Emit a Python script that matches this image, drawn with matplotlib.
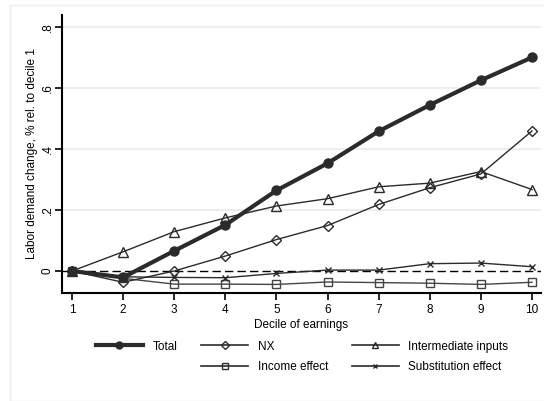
import matplotlib
matplotlib.use("Agg")
import matplotlib.pyplot as plt
from matplotlib.lines import Line2D
from matplotlib.patches import Rectangle

plt.rcParams['font.family'] = ['Liberation Sans', 'DejaVu Sans']

deciles = [1, 2, 3, 4, 5, 6, 7, 8, 9, 10]
total = [0.0, -0.021, 0.066, 0.151, 0.264, 0.353, 0.458, 0.544, 0.625, 0.700]
nx = [0.0, -0.037, 0.0, 0.049, 0.103, 0.149, 0.218, 0.273, 0.318, 0.459]
intermediate = [0.0, 0.063, 0.129, 0.174, 0.213, 0.237, 0.276, 0.288, 0.326, 0.267]
income = [0.0, -0.024, -0.043, -0.043, -0.044, -0.036, -0.038, -0.040, -0.044, -0.037]
substitution = [0.0, -0.019, -0.021, -0.022, -0.008, 0.003, 0.003, 0.024, 0.026, 0.014]

yticks = [0, 0.2, 0.4, 0.6, 0.8]
yticklabels = ["0", ".2", ".4", ".6", ".8"]

W, H = 544, 401
fig = plt.figure(figsize=(W / 100, H / 100), dpi=100)
fig.patch.set_facecolor("white")

# faint outer frame of the graph region
fig.patches.append(Rectangle((10 / W, 0), 1.0, 1 - 4.5 / H, transform=fig.transFigure,
                             fill=False, edgecolor="#ececec", linewidth=1.0))

ax = fig.add_axes([62 / W, 1 - 293 / H, (541 - 62) / W, (293 - 15) / H])
ax.set_xlim(0.804, 10.176)
ax.set_ylim(-0.0721, 0.839)

for y in yticks[1:]:
    ax.axhline(y, color="#ebebeb", linewidth=1.2, zorder=0)
ax.axhline(0, color="black", linewidth=1.0, linestyle=(0, (6, 3)), zorder=1)

dark = "#2b2b2b"
ax.plot(deciles, income, color="#444444", linewidth=1.0, marker="s", markersize=5.5,
        markerfacecolor="none", markeredgecolor="#444444", markeredgewidth=1.0, zorder=2)
ax.plot(deciles, substitution, color=dark, linewidth=1.0, marker="x", markersize=4,
        markeredgewidth=1.0, zorder=2)
ax.plot(deciles, intermediate, color=dark, linewidth=1.0, marker="^", markersize=6.5,
        markerfacecolor="none", markeredgecolor=dark, markeredgewidth=1.0, zorder=3)
ax.plot(deciles, nx, color=dark, linewidth=1.0, marker="D", markersize=5.5,
        markerfacecolor="none", markeredgecolor=dark, markeredgewidth=1.0, zorder=3)
ax.plot(deciles, total, color=dark, linewidth=3.0, marker="o", markersize=6.5,
        markerfacecolor=dark, markeredgecolor=dark, zorder=4)

for s in ["top", "right"]:
    ax.spines[s].set_visible(False)
for s in ["left", "bottom"]:
    ax.spines[s].set_linewidth(1.5)
    ax.spines[s].set_color("black")

ax.set_xticks(deciles)
ax.set_xticklabels([str(d) for d in deciles], fontsize=8.5)
ax.set_yticks(yticks)
ax.set_yticklabels(yticklabels, fontsize=8.5, rotation=90, va="center")
ax.tick_params(axis="both", direction="out", length=5, width=1.2, colors="black", pad=3)
ax.tick_params(axis="y", pad=1)
ax.set_xlabel("Decile of earnings", fontsize=8.5, labelpad=2)
ax.set_ylabel("Labor demand change, % rel. to decile 1", fontsize=8.5, labelpad=3)

h_total = Line2D([], [], color=dark, linewidth=3.0, marker="o", markersize=5, markerfacecolor=dark)
h_nx = Line2D([], [], color=dark, linewidth=1.2, marker="D", markersize=4.5, markerfacecolor="none")
h_int = Line2D([], [], color=dark, linewidth=1.2, marker="^", markersize=5, markerfacecolor="none")
h_inc = Line2D([], [], color=dark, linewidth=1.2, marker="s", markersize=4.5, markerfacecolor="none")
h_sub = Line2D([], [], color=dark, linewidth=1.2, marker="x", markersize=3.5)
h_blank = Line2D([], [], linestyle="none")

fig.legend([h_total, h_blank, h_nx, h_inc, h_int, h_sub],
           ["Total", "", "NX", "Income effect", "Intermediate inputs", "Substitution effect"],
           ncol=3, loc="center", bbox_to_anchor=(302 / W, 1 - 357 / H), frameon=False,
           fontsize=8.5, handlelength=4.0, handletextpad=0.8, columnspacing=2.0,
           labelspacing=0.75)

fig.savefig("out.png", dpi=100, facecolor="white")
